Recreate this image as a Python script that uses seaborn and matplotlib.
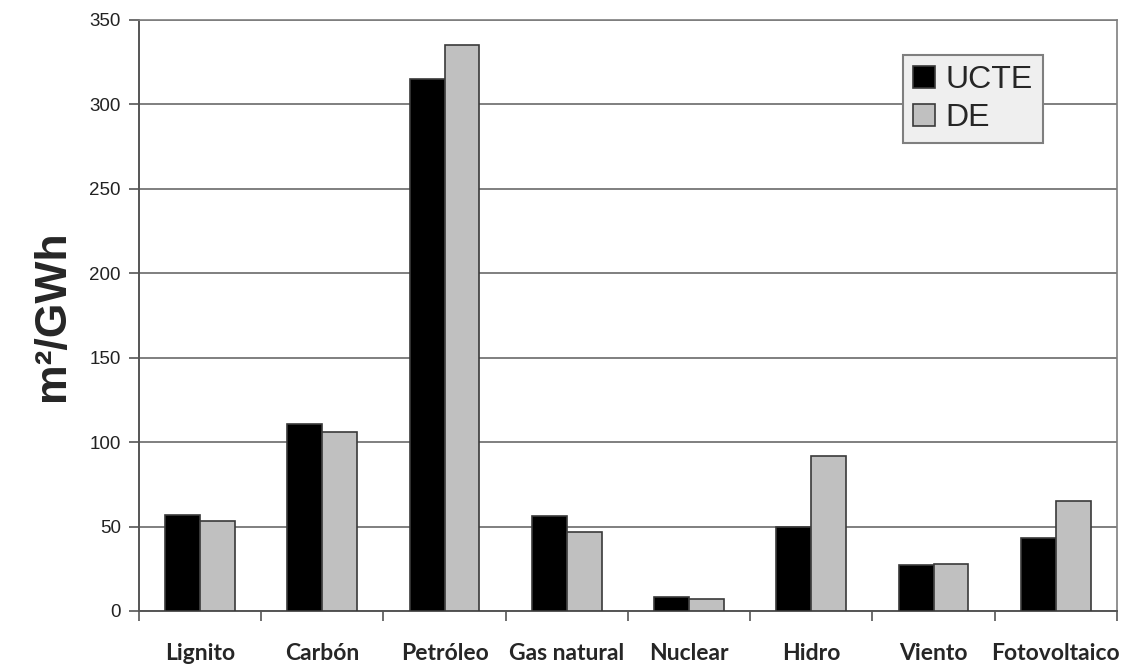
import numpy as np
import pandas as pd
import matplotlib.pyplot as plt
import seaborn as sns

# Datos (m²/GWh)
fuentes = ["Lignito", "Carbón", "Petróleo", "Gas natural", "Nuclear",
           "Hidro", "Viento", "Fotovoltaico"]
ucte = [57, 111, 315, 56, 8, 50, 27, 43]
de = [53, 106, 335, 47, 7, 92, 28, 65]
series = ["UCTE", "DE"]

df = pd.DataFrame({
    "fuente": fuentes * 2,
    "valor": ucte + de,
    "serie": [series[0]] * len(fuentes) + [series[1]] * len(fuentes),
})

sns.set_theme(style="white")
plt.rcParams["font.family"] = ["Liberation Sans", "DejaVu Sans"]

fig = plt.figure(figsize=(11.27, 6.66), dpi=100)
ax = fig.add_axes([0.1233, 0.0826, 0.8677, 0.8874])

sns.barplot(data=df, x="fuente", y="valor", hue="serie", order=fuentes,
            hue_order=series, palette=["#000000", "#c0c0c0"],
            edgecolor="#3a3a3a", linewidth=1.2, width=0.57, gap=0,
            errorbar=None, ax=ax, zorder=3)

ax.set_ylim(0, 350)
ax.set_xlim(-0.5, len(fuentes) - 0.5)
ax.set_yticks(np.arange(0, 351, 50))
ax.yaxis.grid(True, color="#7f7f7f", linewidth=1.4, zorder=0)
ax.xaxis.grid(False)
ax.set_axisbelow(True)

# ticks entre categorías, etiquetas en el centro
ax.set_xticks(np.arange(-0.5, len(fuentes), 1))
ax.set_xticklabels([])
ax.set_xticks(np.arange(len(fuentes)), minor=True)
ax.set_xticklabels(fuentes, minor=True, fontsize=16.5, fontweight="bold",
                   family=["Lato", "DejaVu Sans"])
ax.tick_params(axis="x", which="major", direction="out", length=7,
               width=1.2, color="#555555", bottom=True)
ax.tick_params(axis="x", which="minor", length=0, pad=23, bottom=True)
ax.tick_params(axis="y", direction="out", length=7, width=1.2, pad=6,
               color="#555555", labelsize=13.5, labelcolor="#222222", left=True)

for side in ["left", "bottom"]:
    ax.spines[side].set_color("#555555")
    ax.spines[side].set_linewidth(1.4)
for side in ["right", "top"]:
    ax.spines[side].set_color("#7f7f7f")
    ax.spines[side].set_linewidth(1.2)

ax.set_xlabel("")
ax.set_ylabel("m²/GWh", fontsize=32, fontweight="bold", labelpad=12)

leg = ax.legend(loc="upper right", bbox_to_anchor=(0.924, 0.941),
                borderaxespad=0, fontsize=23, frameon=True, fancybox=False,
                handlelength=0.7, handleheight=0.7, handletextpad=0.3,
                labelspacing=0.25, borderpad=0.32, title=None)
leg.get_frame().set_facecolor("#efefef")
leg.get_frame().set_edgecolor("#7f7f7f")
leg.get_frame().set_linewidth(1.5)
leg.get_frame().set_alpha(1)

fig.savefig("out.png", dpi=100)
